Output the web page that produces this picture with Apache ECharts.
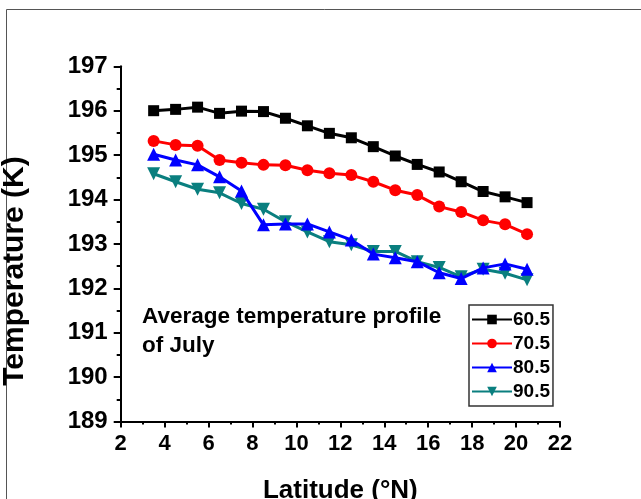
<!DOCTYPE html>
<html>
<head>
<meta charset="utf-8">
<script src="https://cdn.jsdelivr.net/npm/echarts@6/dist/echarts.min.js"></script>
<style>
html,body{margin:0;padding:0;background:#fff;}
#c{width:641px;height:499px;}
</style>
</head>
<body>
<div id="c"></div>
<script>
const latitudes = [3.5,4.5,5.5,6.5,7.5,8.5,9.5,10.5,11.5,12.5,13.5,14.5,15.5,16.5,17.5,18.5,19.5,20.5];
const seriesNames = ['60.5','70.5','80.5','90.5'];
const temp605 = [196.00,196.03,196.08,195.94,195.99,195.98,195.83,195.66,195.49,195.39,195.19,194.98,194.79,194.62,194.40,194.18,194.06,193.93];
const temp705 = [195.32,195.23,195.21,194.89,194.83,194.78,194.77,194.66,194.59,194.55,194.40,194.21,194.10,193.84,193.72,193.53,193.44,193.22];
const temp805 = [195.02,194.89,194.78,194.51,194.19,193.43,193.45,193.45,193.27,193.09,192.77,192.69,192.60,192.35,192.22,192.46,192.55,192.43];
const temp905 = [194.58,194.40,194.23,194.15,193.91,193.78,193.50,193.27,193.05,192.98,192.83,192.83,192.60,192.47,192.26,192.43,192.34,192.19];
const xTicks = [2,4,6,8,10,12,14,16,18,20,22];
const yTicks = [189,190,191,192,193,194,195,196,197];
const xTitle = 'Latitude (°N)';
const yTitle = 'Temperature (K)';
const annotationLines = ['Average temperature profile','of July'];

const colors = ['#000000','#ff0000','#0000ff','#0a7f7f'];
const symbols = ['rect','circle','triangle','path://M0,0 L10,0 L5,10 Z'];
const allData = [temp605,temp705,temp805,temp905];

const chart = echarts.init(document.getElementById('c'), null, {renderer:'canvas'});
const font = 'Liberation Sans, Arial, sans-serif';

const series = seriesNames.map((n,i)=>({
  name:n,
  type:'line',
  data: latitudes.map((x,j)=>[x, allData[i][j]]),
  symbol: symbols[i],
  symbolSize: i===0?11:(i===1?12:13),
  lineStyle:{color:colors[i], width:3},
  itemStyle:{color:colors[i]},
  z: 10 - i
}));

chart.setOption({
  animation:false,
  backgroundColor:'#fff',
  grid:{left:120.7, top:66.3, width:439.3, height:355.2, containLabel:false, outerBoundsMode:'none'},
  xAxis:{
    type:'value', min:xTicks[0], max:xTicks[xTicks.length-1], interval:2,
    name:xTitle, nameLocation:'middle', nameGap:56,
    nameTextStyle:{fontFamily:font, fontWeight:'bold', fontSize:26, color:'#000'},
    axisLine:{show:true, onZero:false, lineStyle:{color:'#000', width:2}},
    axisTick:{show:true, inside:false, length:6, lineStyle:{color:'#000', width:2}},
    minorTick:{show:true, splitNumber:2, length:3, lineStyle:{color:'#000', width:2}},
    splitLine:{show:false},
    axisLabel:{margin:11, fontFamily:font, fontWeight:'bold', fontSize:22, color:'#000'}
  },
  yAxis:{
    type:'value', min:yTicks[0], max:yTicks[yTicks.length-1], interval:1,
    axisLine:{show:true, onZero:false, lineStyle:{color:'#000', width:2}},
    axisTick:{show:true, inside:false, length:7, lineStyle:{color:'#000', width:2}},
    minorTick:{show:true, splitNumber:2, length:4, lineStyle:{color:'#000', width:2}},
    splitLine:{show:false},
    axisLabel:{margin:13, fontFamily:font, fontWeight:'bold', fontSize:24, color:'#000'}
  },
  legend:{
    data: seriesNames,
    orient:'vertical',
    left:469, top:305,
    width:84,
    borderColor:'#333', borderWidth:1.5,
    padding:[5,3,5,2],
    itemWidth:40, itemHeight:12, itemGap:5,
    textStyle:{fontFamily:font, fontWeight:'bold', fontSize:19, color:'#000', padding:[0,0,0,-4]}
  },
  graphic:[
    {type:'rect', left:4, top:7, shape:{width:700, height:600}, style:{fill:'none', stroke:'#555', lineWidth:1}, silent:true, z:-1},
    {type:'text', x:15, y:271, rotation:Math.PI/2, style:{text:yTitle, align:'center', verticalAlign:'middle', fontFamily:font, fontWeight:'bold', fontSize:30, fill:'#000'}, z:100},
    {type:'text', left:142, top:302, style:{text:annotationLines.join('\n'), fontFamily:font, fontWeight:'bold', fontSize:22.5, lineHeight:29, fill:'#000'}, z:100}
  ],
  series: series
});
</script>
</body>
</html>
